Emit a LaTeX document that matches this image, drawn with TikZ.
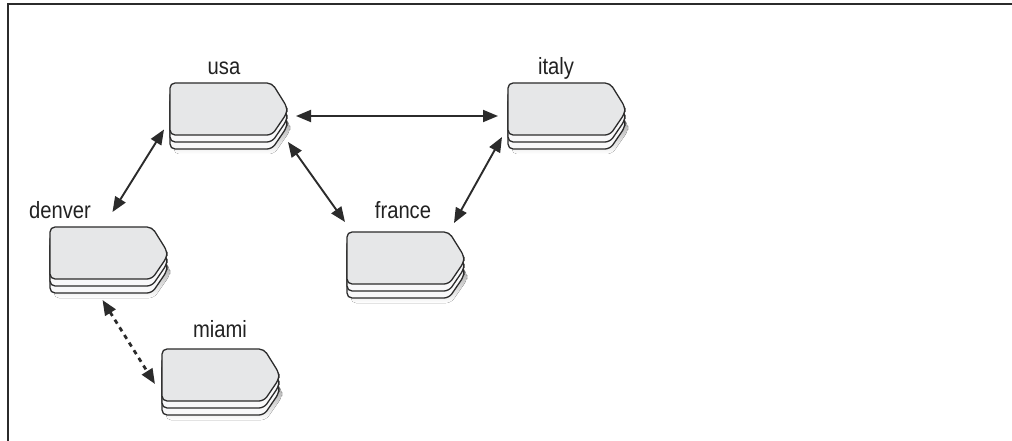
\documentclass[tikz,border=0pt]{standalone}
\usepackage{fontspec}
\setmainfont{Liberation Sans}[FakeStretch=0.86]
\usetikzlibrary{arrows.meta,calc}
\definecolor{edge}{HTML}{2B2B2B}
\definecolor{face}{HTML}{E6E7E8}
\definecolor{layer}{HTML}{F8F8F9}
\definecolor{shade}{HTML}{EDEEEF}
\definecolor{ink}{HTML}{222222}
\tikzset{
  boxshape/.style={rounded corners=5pt, line width=1.3pt, draw=edge},
  stackbox/.pic={
    \fill[shade, rounded corners=5pt] (4,18) -- (104,18) -- (120,42) -- (120,48) -- (104,71) -- (4,71) -- cycle;
    \foreach \d/\c in {14/layer,7/layer,0/face}{
      \filldraw[boxshape, fill=\c] (0,\d) -- (102,\d) -- (117,\d+24) -- (117,\d+30) -- (102,\d+52) -- (0,\d+52) -- cycle;
    }
  },
  boxarea/.style={minimum width=117pt, minimum height=66pt, inner sep=0pt, outer sep=0pt, anchor=north west},
  lbl/.style={font=\fontsize{23.5}{28}\selectfont, text=ink, anchor=base, inner sep=0pt},
  link/.style={line width=1.9pt, draw=edge, {Triangle[length=15pt,width=12pt]}-{Triangle[length=15pt,width=12pt]}},
  dotlink/.style={link, dash pattern=on 4.5pt off 4.5pt, line width=2.8pt},
}
\begin{document}
\begin{tikzpicture}[x=1pt,y=-1pt]
\useasboundingbox (0,0) rectangle (1012,441);
\fill[white] (0,0) rectangle (1012,441);
\draw[line width=1.5pt, edge] (8,441) -- (8,4) -- (1012,4);

% boxes
\pic at (170,83) {stackbox};
\node[boxarea] (usa) at (170,83) {};
\pic at (508,83) {stackbox};
\node[boxarea] (italy) at (508,83) {};
\pic at (50,227) {stackbox};
\node[boxarea] (denver) at (50,227) {};
\pic at (347,232) {stackbox};
\node[boxarea] (france) at (347,232) {};
\pic at (162,349) {stackbox};
\node[boxarea] (miami) at (162,349) {};

% labels
\node[lbl] (usa-l) at (224,75) {usa};
\node[lbl] (italy-l) at (556,75) {italy};
\node[lbl] (denver-l) at (60,218) {denver};
\node[lbl] (france-l) at (403,218) {france};
\node[lbl] (miami-l) at (220,337) {miami};

% connectors
\draw[link] ([xshift=9pt]usa.east) -- ([xshift=-10pt]italy.west);
\draw[link] ($(usa.west)+(-6,13.5)$) -- ($(denver.north)+(4,-15)$);
\draw[link] ($(usa.south east)+(1,-7)$) -- ($(france.north west)+(-2,-10)$);
\draw[link] ($(italy.south west)+(-6,-12)$) -- ($(france.north east)+(-10,-9)$);
\draw[dotlink] ($(denver.south)+(-6,7)$) -- ($(miami.west)+(-7,2)$);
\end{tikzpicture}
\end{document}
